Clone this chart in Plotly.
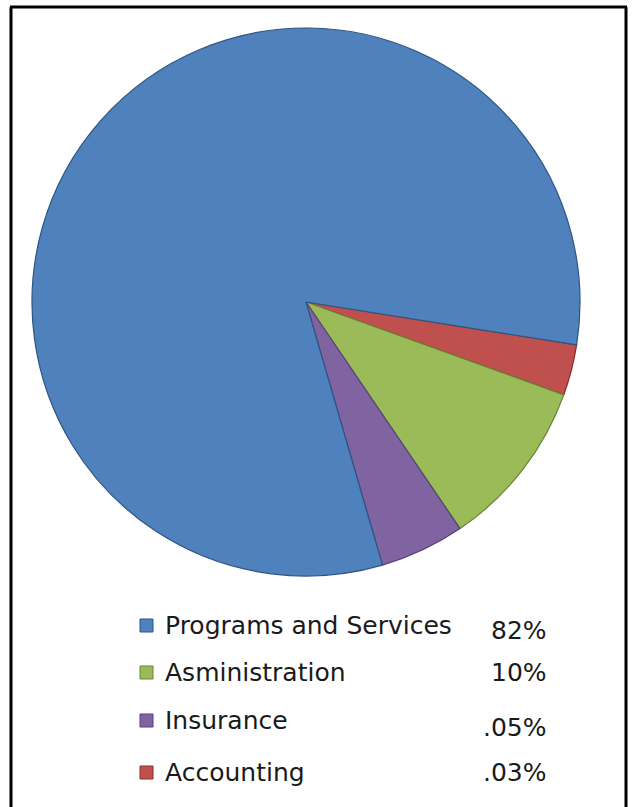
import plotly.graph_objects as go

W, H = 634, 807

# Data (legend order)
categories = ["Programs and Services", "Asministration", "Insurance", "Accounting"]
values = [82, 10, 5, 3]
pct_labels = ["82%", "10%", ".05%", ".03%"]
colors = ["#4F81BD", "#9BBB59", "#8064A2", "#C0504D"]
edge_colors = ["#2E5584", "#6A8532", "#54407A", "#8B2D2A"]

# slice drawing order (clockwise from ~3 o'clock): Accounting, Asministration, Insurance, Programs
slice_order = [3, 1, 2, 0]

fig = go.Figure()
fig.add_trace(go.Pie(
    labels=[categories[i] for i in slice_order],
    values=[values[i] for i in slice_order],
    marker=dict(colors=[colors[i] for i in slice_order],
                line=dict(color=[edge_colors[i] for i in slice_order], width=1.2)),
    sort=False,
    direction="clockwise",
    rotation=99,
    textinfo="none",
    showlegend=False,
    domain=dict(x=[(306 - 274) / W, (306 + 274) / W],
                y=[1 - (302 + 274) / H, 1 - (302 - 274) / H]),
))

# manual legend
label_y_px = [625, 672, 720, 772]
pct_y_px = [630, 672, 727, 772]
annotations = []
shapes = []
for i, name in enumerate(categories):
    yl = 1 - label_y_px[i] / H
    yp = 1 - pct_y_px[i] / H
    annotations.append(dict(x=163 / W, y=yl, xref="paper", yref="paper",
                            text=name, showarrow=False, xanchor="left", yanchor="middle",
                            font=dict(family="DejaVu Sans", size=25, color="#1a1a1a")))
    annotations.append(dict(x=549 / W, y=yp, xref="paper", yref="paper",
                            text=pct_labels[i], showarrow=False, xanchor="right", yanchor="middle",
                            font=dict(family="DejaVu Sans", size=25, color="#1a1a1a")))
    shapes.append(dict(type="rect", xref="paper", yref="paper",
                       x0=140 / W, x1=153 / W,
                       y0=1 - (label_y_px[i] + 7) / H, y1=1 - (label_y_px[i] - 6) / H,
                       fillcolor=colors[i], line=dict(color=edge_colors[i], width=1)))

# frame (top, left, right)
frame = dict(color="black", width=3)
shapes.append(dict(type="line", xref="paper", yref="paper", x0=10 / W, x1=627 / W,
                   y0=1 - 7 / H, y1=1 - 7 / H, line=frame))
shapes.append(dict(type="line", xref="paper", yref="paper", x0=11 / W, x1=11 / W,
                   y0=1 - 7 / H, y1=-0.02, line=frame))
shapes.append(dict(type="line", xref="paper", yref="paper", x0=626 / W, x1=626 / W,
                   y0=1 - 7 / H, y1=-0.02, line=frame))

fig.update_layout(
    width=W, height=H,
    margin=dict(l=0, r=0, t=0, b=0),
    paper_bgcolor="white",
    plot_bgcolor="white",
    annotations=annotations,
    shapes=shapes,
)

fig.write_html("out.html")
